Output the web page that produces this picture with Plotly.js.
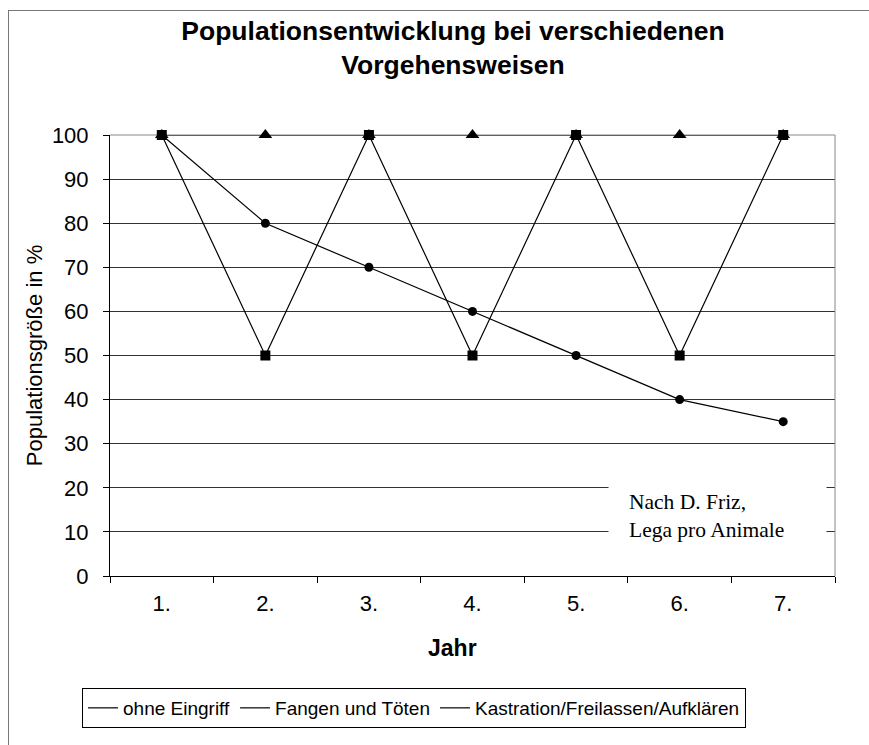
<!DOCTYPE html>
<html>
<head>
<meta charset="utf-8">
<script src="https://cdn.plot.ly/plotly-3.0.1.min.js"></script>
<style>
  html, body { margin: 0; padding: 0; background: #fff; }
  #wrap { position: relative; width: 869px; height: 745px; overflow: hidden; }
  #chart { width: 869px; height: 745px; }
  #frame { position: absolute; left: 8px; top: 10px; width: 900px; height: 800px;
           border-left: 1px solid #777; border-top: 1px solid #777; pointer-events: none; }
</style>
</head>
<body>
<div id="wrap"><div id="chart"></div><div id="frame"></div></div>
<script>
// Data
const years = ["1.", "2.", "3.", "4.", "5.", "6.", "7."];
const seriesNames = ["ohne Eingriff", "Fangen und Töten", "Kastration/Freilassen/Aufklären"];
const ohneEingriff = [100, 100, 100, 100, 100, 100, 100];
const fangenUndToeten = [100, 50, 100, 50, 100, 50, 100];
const kastration = [100, 80, 70, 60, 50, 40, 35];
const yTicks = [0, 10, 20, 30, 40, 50, 60, 70, 80, 90, 100];

const font = "Liberation Sans, Arial, sans-serif";
const seriesValues = [ohneEingriff, fangenUndToeten, kastration];
const symbols = ["triangle-up", "square", "circle"];
const sizes = [12, 10, 9];

const traces = [];
seriesValues.forEach((vals, i) => {
  traces.push({
    x: years, y: vals, type: "scatter", mode: "lines+markers",
    name: seriesNames[i], showlegend: false, cliponaxis: false,
    line: { color: "#000", width: 1.2 },
    marker: { symbol: symbols[i], size: sizes[i], color: "#000" },
    hoverinfo: "x+y+name"
  });
});
seriesNames.forEach((n) => {
  traces.push({
    x: [null], y: [null], type: "scatter", mode: "lines", name: n,
    line: { color: "#000", width: 1.2 }, showlegend: true
  });
});

const layout = {
  width: 869, height: 745,
  margin: { l: 110, r: 34, t: 135, b: 169 },
  paper_bgcolor: "rgba(0,0,0,0)", plot_bgcolor: "#fff",
  font: { family: font, color: "#000" },
  title: {
    text: "<b>Populationsentwicklung bei verschiedenen<br>Vorgehensweisen</b>",
    font: { family: font, size: 26.5, color: "#000" },
    x: 453 / 869, xref: "container", xanchor: "center",
    y: 1 - 40 / 745, yref: "container", yanchor: "top"
  },
  xaxis: {
    type: "category", range: [-0.5, 6.5], tickson: "boundaries",
    ticks: "outside", ticklen: 6, tickcolor: "#000",
    showline: true, linecolor: "#000", linewidth: 1,
    showgrid: false, zeroline: false,
    tickfont: { family: font, size: 22, color: "#000" },
    ticklabelstandoff: 8,
    fixedrange: true
  },
  yaxis: {
    range: [0, 100], tickmode: "array", tickvals: yTicks,
    ticks: "outside", ticklen: 6, tickcolor: "#000",
    showline: true, linecolor: "#000", linewidth: 1,
    showgrid: true, gridcolor: "#333", gridwidth: 1, zeroline: false,
    tickfont: { family: font, size: 22, color: "#000" },
    ticklabelstandoff: 10,
    title: { text: "Populationsgröße in %", font: { family: font, size: 22, color: "#000" }, standoff: 3 },
    fixedrange: true
  },
  shapes: [
    { type: "line", xref: "paper", yref: "paper", x0: 0, x1: 1, y0: 1, y1: 1, line: { color: "#888", width: 1 }, layer: "below" },
    { type: "line", xref: "paper", yref: "paper", x0: 1, x1: 1, y0: 0, y1: 1, line: { color: "#888", width: 1 } }
  ],
  annotations: [
    { xref: "paper", yref: "paper", x: (452 - 110) / 725, xanchor: "center", y: (576 - 648) / 441, yanchor: "middle",
      text: "<b>Jahr</b>", showarrow: false, font: { family: font, size: 23, color: "#000" } },
    { xref: "paper", yref: "y", x: (608 - 110) / 725, xanchor: "left", y: 17, yanchor: "middle",
      text: " ", width: 217, height: 84, bgcolor: "#fff", showarrow: false, borderpad: 0 },
    { xref: "paper", yref: "y", x: (627 - 110) / 725, xanchor: "left", y: 13.5, yanchor: "middle",
      text: "Nach D. Friz,<br>Lega pro Animale", align: "left", showarrow: false,
      font: { family: "Liberation Serif, Times New Roman, serif", size: 21.5, color: "#000" } }
  ],
  legend: {
    orientation: "h", x: (82 - 110) / 725, xanchor: "left", y: (576 - 688) / 441, yanchor: "top",
    bordercolor: "#000", borderwidth: 1, bgcolor: "#fff",
    font: { family: font, size: 19, color: "#000" },
    traceorder: "normal", itemwidth: 30
  },
  hovermode: "closest"
};

Plotly.newPlot("chart", traces, layout, { displayModeBar: false });
</script>
</body>
</html>
